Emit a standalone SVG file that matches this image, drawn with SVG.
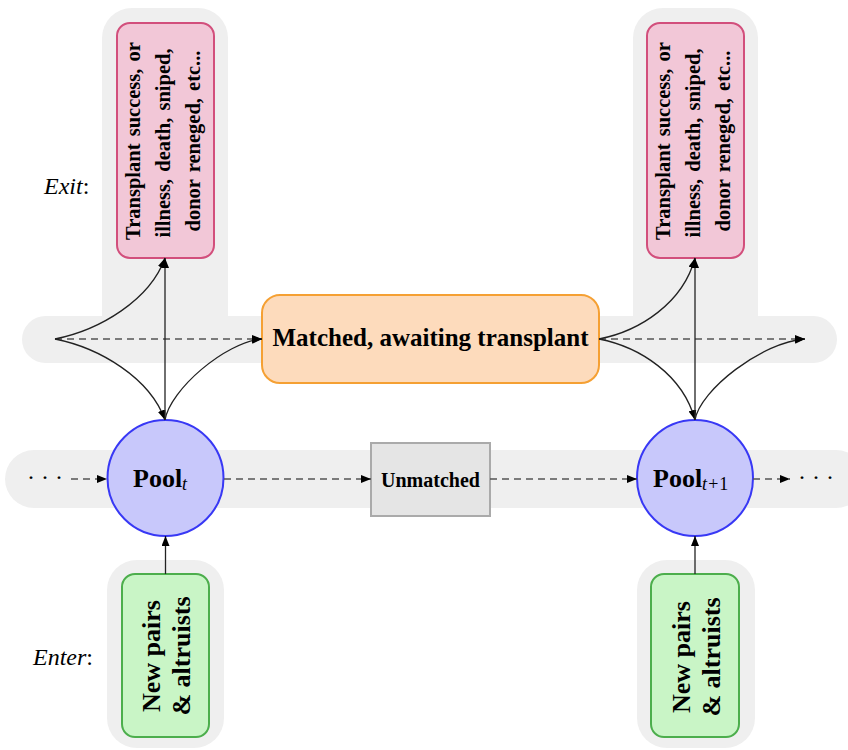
<svg xmlns="http://www.w3.org/2000/svg" width="848" height="750" viewBox="0 0 848 750">
<style>
.bg{fill:#efefef;stroke:none}
.pink{fill:#f2c7d7;stroke:#d24f7c;stroke-width:2}
.orange{fill:#fddbbc;stroke:#f5a033;stroke-width:2}
.blue{fill:#c8c8fb;stroke:#3838f5;stroke-width:2}
.green{fill:#c9f5c6;stroke:#4cae4c;stroke-width:2}
.gray{fill:#e5e5e5;stroke:#aaaaaa;stroke-width:2}
.t{font-family:"Liberation Serif","Times New Roman",serif;font-weight:bold;fill:#000}
.pt{font-size:20.5px;word-spacing:2px}
.lab{font-family:"Liberation Serif","Times New Roman",serif;font-style:italic;font-size:24px;fill:#000}
.solid{fill:none;stroke:#222;stroke-width:1.3;marker-end:url(#ah)}
.dash{fill:none;stroke:#555;stroke-width:1.5;stroke-dasharray:7 5;marker-end:url(#ah)}
.dots{font-family:"Liberation Serif","Times New Roman",serif;font-size:24px;fill:#000}
</style>
<defs>
<marker id="ah" markerUnits="userSpaceOnUse" markerWidth="10" markerHeight="8" refX="10" refY="4" orient="auto">
<path d="M0,0 L10,4 L0,8 z" fill="#000"/>
</marker>
</defs>

<g id="backgrounds">
<rect class="bg" x="102" y="8" width="126" height="340" rx="30"/>
<rect class="bg" x="633" y="8" width="125" height="340" rx="30"/>
<rect class="bg" x="22" y="316" width="815" height="47" rx="23.5"/>
<rect class="bg" x="5" y="450" width="860" height="58" rx="29"/>
<rect class="bg" x="107" y="560" width="117" height="188" rx="30"/>
<rect class="bg" x="637" y="560" width="118" height="188" rx="30"/>
</g>

<g id="labels">
<text class="lab" x="44" y="194">Exit<tspan font-style="normal">:</tspan></text>
<text class="lab" x="33" y="665">Enter<tspan font-style="normal">:</tspan></text>
<text class="dots" x="27" y="485">· · ·</text>
<text class="dots" x="798" y="485">· · ·</text>
</g>

<g id="exit-left">
<rect class="pink" x="117" y="23" width="97" height="235" rx="13"/>
<text class="t pt" text-anchor="middle" transform="translate(140,141) rotate(-90)">Transplant success, or</text>
<text class="t pt" text-anchor="middle" transform="translate(170,143) rotate(-90)">illness, death, sniped,</text>
<text class="t pt" text-anchor="middle" transform="translate(200,141) rotate(-90)">donor reneged, etc...</text>
</g>

<g id="exit-right">
<rect class="pink" x="647" y="23" width="97" height="235" rx="13"/>
<text class="t pt" text-anchor="middle" transform="translate(670,141) rotate(-90)">Transplant success, or</text>
<text class="t pt" text-anchor="middle" transform="translate(700,143) rotate(-90)">illness, death, sniped,</text>
<text class="t pt" text-anchor="middle" transform="translate(730,141) rotate(-90)">donor reneged, etc...</text>
</g>

<g id="matched">
<rect class="orange" x="262" y="295" width="337" height="88" rx="18"/>
<text class="t" font-size="25" text-anchor="middle" x="430.5" y="346">Matched, awaiting transplant</text>
</g>

<g id="pool-t">
<circle class="blue" cx="165.5" cy="478" r="58"/>
<text class="t" font-size="26" x="133" y="487">Pool<tspan font-style="italic" font-weight="normal" font-size="18" dy="3">t</tspan></text>
</g>

<g id="pool-t1">
<circle class="blue" cx="695" cy="478" r="58"/>
<text class="t" font-size="26" x="653" y="487">Pool<tspan font-style="italic" font-weight="normal" font-size="18" dy="3">t</tspan><tspan font-weight="normal" font-size="18" dx="1">+</tspan><tspan font-weight="normal" font-size="18" dx="1">1</tspan></text>
</g>

<g id="unmatched">
<rect class="gray" x="371" y="443" width="119" height="73"/>
<text class="t" font-size="20" text-anchor="middle" x="430.5" y="487">Unmatched</text>
</g>

<g id="enter-left">
<rect class="green" x="122" y="574" width="87" height="163" rx="13"/>
<text class="t" font-size="26" text-anchor="middle" transform="translate(160,656) rotate(-90)">New pairs</text>
<text class="t" font-size="26" text-anchor="middle" transform="translate(190,656) rotate(-90)">&amp; altruists</text>
</g>

<g id="enter-right">
<rect class="green" x="651" y="574" width="88" height="163" rx="13"/>
<text class="t" font-size="26" text-anchor="middle" transform="translate(690,657) rotate(-90)">New pairs</text>
<text class="t" font-size="26" text-anchor="middle" transform="translate(720,657) rotate(-90)">&amp; altruists</text>
</g>

<g id="connectors">
<path class="dash" d="M55,339 L262,339"/>
<path class="dash" d="M599,339 L805,339"/>
<path class="dash" d="M71,479 L107,479"/>
<path class="dash" d="M224,479 L371,479"/>
<path class="dash" d="M490,479 L637,479"/>
<path class="dash" d="M753,479 L790,479"/>
<path class="solid" d="M55,339 C100,330 150,300 165,258"/>
<path class="solid" d="M55,339 C100,348 150,378 165,420"/>
<path class="solid" d="M165,420 L165,258"/>
<path class="solid" d="M165,420 C170,390 225,342 262,339"/>
<path class="solid" d="M599,339 C640,331 683,303 695,258"/>
<path class="solid" d="M599,339 C640,347 683,375 695,420"/>
<path class="solid" d="M695,420 L695,258"/>
<path class="solid" d="M695,420 C700,390 762,342 805,339"/>
<path class="solid" d="M165.5,574 L165.5,536"/>
<path class="solid" d="M695,574 L695,536"/>
</g>
</svg>
